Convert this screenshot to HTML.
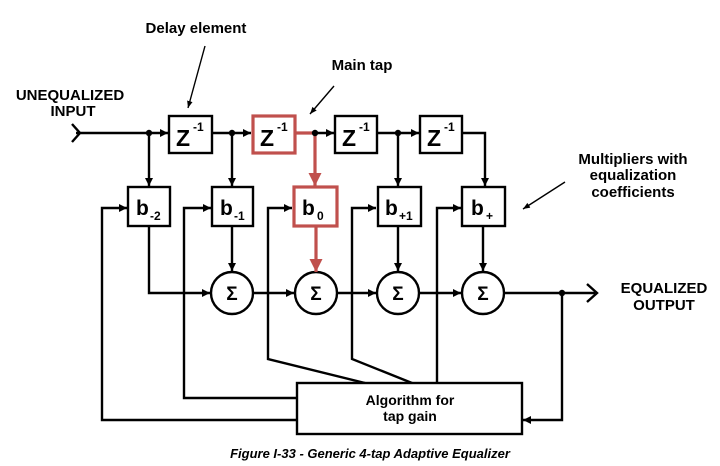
<!DOCTYPE html>
<html><head><style>body{margin:0;background:#fff}svg{display:block}text{font-family:"Liberation Sans",sans-serif;font-weight:bold;fill:#000}</style></head><body>
<svg width="720" height="466" viewBox="0 0 720 466" xmlns="http://www.w3.org/2000/svg">
<defs>
<marker id="a" viewBox="0 0 10 10" refX="10" refY="5" markerWidth="8" markerHeight="8" markerUnits="userSpaceOnUse" orient="auto"><path d="M0,0L10,5L0,10z" fill="#000"/></marker>
<marker id="r" viewBox="0 0 10 10" refX="10" refY="5" markerWidth="13" markerHeight="13" markerUnits="userSpaceOnUse" orient="auto"><path d="M0,0L10,5L0,10z" fill="#c0504d"/></marker>
<marker id="t" viewBox="0 0 10 10" refX="10" refY="5" markerWidth="7" markerHeight="7" markerUnits="userSpaceOnUse" orient="auto"><path d="M0,1L10,5L0,9z" fill="#000"/></marker>
</defs>
<g stroke="#000" stroke-width="2.4" fill="none">
<path d="M72,124L80,133L72,142"/>
<path d="M76,133H168" marker-end="url(#a)"/>
<path d="M212,133H251" marker-end="url(#a)"/>
<path d="M315,133H334" marker-end="url(#a)"/>
<path d="M377,133H419" marker-end="url(#a)"/>
<path d="M462,133H485V186" marker-end="url(#a)"/>
<path d="M149,133V186" marker-end="url(#a)"/>
<path d="M232,133V186" marker-end="url(#a)"/>
<path d="M398,133V186" marker-end="url(#a)"/>
<path d="M149,226V293H210" marker-end="url(#a)"/>
<path d="M232,226V271" marker-end="url(#a)"/>
<path d="M398,226V271" marker-end="url(#a)"/>
<path d="M483,226V271" marker-end="url(#a)"/>
<path d="M253,293H294" marker-end="url(#a)"/>
<path d="M337,293H376" marker-end="url(#a)"/>
<path d="M419,293H461" marker-end="url(#a)"/>
<path d="M504,293H595"/>
<path d="M587,284L597,293L587,302"/>
<path d="M562,293V420H523" marker-end="url(#a)"/>
<path d="M297,420H102V208H127" marker-end="url(#a)"/>
<path d="M297,398H184V208H211" marker-end="url(#a)"/>
<path d="M365,383L268,359V208H292" marker-end="url(#a)"/>
<path d="M412,383L352,359V208H376" marker-end="url(#a)"/>
<path d="M437,383V208H461" marker-end="url(#a)"/>
<rect x="169" y="116" width="43" height="37" fill="#fff"/>
<rect x="335" y="116" width="42" height="37" fill="#fff"/>
<rect x="420" y="116" width="42" height="37" fill="#fff"/>
<rect x="128" y="187" width="42" height="39" fill="#fff"/>
<rect x="212" y="187" width="41" height="39" fill="#fff"/>
<rect x="378" y="187" width="43" height="39" fill="#fff"/>
<rect x="462" y="187" width="43" height="39" fill="#fff"/>
<circle cx="232" cy="293" r="21" fill="#fff"/>
<circle cx="316" cy="293" r="21" fill="#fff"/>
<circle cx="398" cy="293" r="21" fill="#fff"/>
<circle cx="483" cy="293" r="21" fill="#fff"/>
<rect x="297" y="383" width="225" height="51" fill="#fff"/>
</g>
<g stroke="#c0504d" stroke-width="3.2" fill="none">
<path d="M295,133H315V186" marker-end="url(#r)"/>
<path d="M316,226V272" marker-end="url(#r)"/>
<rect x="253" y="116" width="42" height="37" fill="#fff"/>
<rect x="294" y="187" width="43" height="39" fill="#fff"/>
</g>
<g fill="#000"><circle cx="149" cy="133" r="3.2"/><circle cx="232" cy="133" r="3.2"/><circle cx="315" cy="133" r="3.2"/><circle cx="398" cy="133" r="3.2"/><circle cx="562" cy="293" r="3.2"/></g>
<g stroke="#000" stroke-width="1.4">
<path d="M205,46L188,108" marker-end="url(#t)"/>
<path d="M334,86L310,114" marker-end="url(#t)"/>
<path d="M565,182L523,209" marker-end="url(#t)"/>
</g>
<g font-size="23">
<text x="176" y="146">Z</text><text x="193" y="131" font-size="12">-1</text>
<text x="260" y="146">Z</text><text x="277" y="131" font-size="12">-1</text>
<text x="342" y="146">Z</text><text x="359" y="131" font-size="12">-1</text>
<text x="427" y="146">Z</text><text x="444" y="131" font-size="12">-1</text>
</g>
<g font-size="21">
<text x="136" y="215">b</text><text x="150" y="220" font-size="12">-2</text>
<text x="220" y="215">b</text><text x="234" y="220" font-size="12">-1</text>
<text x="302" y="215">b</text><text x="317" y="220" font-size="12">0</text>
<text x="385" y="215">b</text><text x="399" y="220" font-size="12">+1</text>
<text x="471" y="215">b</text><text x="486" y="220" font-size="12">+</text>
</g>
<g font-size="19" text-anchor="middle">
<text x="232" y="300">Σ</text><text x="316" y="300">Σ</text><text x="398" y="300">Σ</text><text x="483" y="300">Σ</text>
</g>
<g font-size="15" text-anchor="middle">
<text x="196" y="33">Delay element</text>
<text x="362" y="70">Main tap</text>
<text x="70" y="100">UNEQUALIZED</text><text x="73" y="116">INPUT</text>
<text x="633" y="164">Multipliers with</text><text x="633" y="180">equalization</text><text x="633" y="197">coefficients</text>
<text x="664" y="293">EQUALIZED</text><text x="664" y="310">OUTPUT</text>
</g>
<g font-size="14" text-anchor="middle">
<text x="410" y="405">Algorithm for</text><text x="410" y="421">tap gain</text>
</g>
<text x="370" y="458" font-size="13" font-style="italic" text-anchor="middle">Figure I-33 - Generic 4-tap Adaptive Equalizer</text>
</svg>
</body></html>
